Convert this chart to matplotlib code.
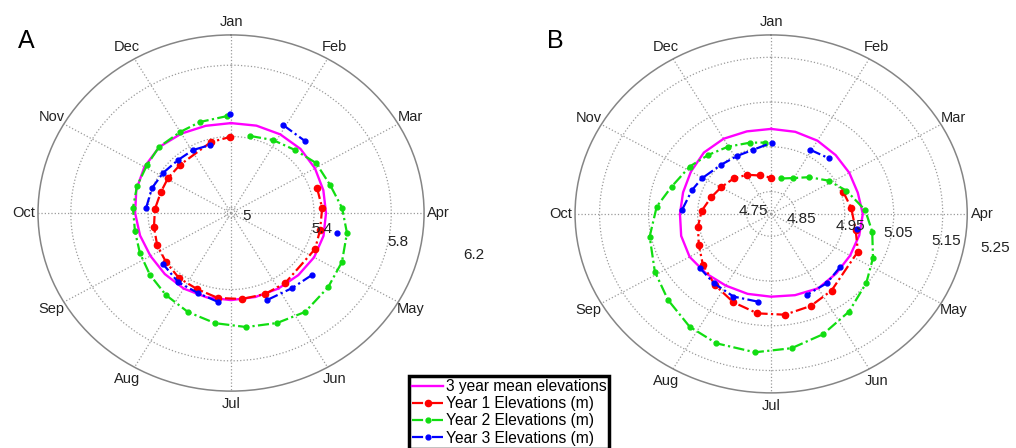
import numpy as np
import matplotlib.pyplot as plt
from matplotlib.lines import Line2D

plt.rcParams['font.family'] = ['Liberation Sans', 'DejaVu Sans']

months = ['Jan', 'Feb', 'Mar', 'Apr', 'May', 'Jun',
          'Jul', 'Aug', 'Sep', 'Oct', 'Nov', 'Dec']
month_deg = np.arange(0, 360, 30)

# 3 year mean, every half month (deg clockwise from Jan)
mean_deg = np.arange(0, 360, 15)
mean_a = [5.475, 5.478, 5.480, 5.479, 5.472, 5.465, 5.462, 5.466, 5.467, 5.463, 5.460, 5.458,
          5.459, 5.460, 5.460, 5.455, 5.452, 5.458, 5.467, 5.478, 5.488, 5.495, 5.485, 5.477]
mean_b = [4.990, 4.990, 4.989, 4.986, 4.984, 4.983, 4.987, 4.986, 4.986, 4.988, 4.992, 4.988,
          4.985, 4.985, 4.985, 4.988, 4.992, 4.990, 4.986, 4.986, 4.989, 4.994, 4.994, 4.991]

# Panel A
y1a_deg = [72.6, 86.6, 101.8, 114.9, 144.5, 158.9, 173.3, 188.0, 202.4, 216.4,
           230.8, 244.8, 258.8, 273.2, 288.0, 301.1, 315.6, 345.4, 359.3]
y1a = [5.437, 5.443, 5.441, 5.450, 5.453, 5.458, 5.456, 5.452, 5.432, 5.424,
       5.405, 5.393, 5.377, 5.365, 5.352, 5.351, 5.348, 5.382, 5.397]
y2a_deg = [12.8, 28.0, 43.2, 57.4, 73.0, 87.2, 100.6, 115.6, 129.6, 145.4, 158.9, 173.0,
           187.6, 201.9, 216.2, 230.4, 244.5, 258.5, 273.2, 287.3, 301.8, 314.8, 330.0, 342.5, 358.0]
y2a = [5.414, 5.434, 5.455, 5.492, 5.507, 5.546, 5.581, 5.607, 5.623, 5.645, 5.632, 5.615,
       5.594, 5.569, 5.541, 5.515, 5.493, 5.478, 5.479, 5.480, 5.482, 5.496, 5.496, 5.506, 5.515]
y3a_deg = [28.6, 43.5, np.nan, 101.5, np.nan, 129.6, 143.1, 159.0, np.nan, 187.6, 200.8,
           215.3, 230.8, np.nan, 273.6, 288.9, 302.6, 317.3, 330.9, 344.0, np.nan, 359.5]
y3a = [5.533, 5.527, np.nan, 5.530, np.nan, 5.515, 5.497, 5.493, np.nan, 5.474, 5.451,
       5.445, 5.424, np.nan, 5.411, 5.403, 5.388, 5.375, 5.375, 5.367, np.nan, 5.526]

# Panel B
y1b_deg = [71.2, 85.5, 101.7, 115.4, 144.3, 158.6, 172.9, 187.2, 201.3, 215.9,
           230.6, 244.9, 259.2, 272.7, 286.8, 300.4, 316.5, 331.0, 344.8, 360.5]
y1b = [4.955, 4.964, 4.976, 4.996, 5.011, 5.021, 5.027, 5.024, 5.012, 4.996,
       4.980, 4.963, 4.952, 4.942, 4.928, 4.918, 4.910, 4.900, 4.889, 4.881]
y2b_deg = [14.9, 29.4, 43.4, 57.7, 71.3, 87.4, 100.9, 115.4, 128.5, 144.0, 158.5, 172.1,
           186.1, 201.1, 213.4, 227.6, 241.5, 258.4, 274.0, 286.7, 302.5, 315.8, 329.8, 344.7, 355.6]
y2b = [4.882, 4.892, 4.913, 4.939, 4.962, 4.992, 5.010, 5.030, 5.048, 5.070, 5.089, 5.103,
       5.111, 5.110, 5.102, 5.085, 5.070, 5.053, 5.034, 5.012, 4.997, 4.984, 4.974, 4.965, 4.960]
y3b_deg = [29.0, 43.2, np.nan, 101.2, np.nan, 129.9, 143.7, 158.1, np.nan, 187.6, 202.6,
           217.2, 230.1, np.nan, 272.8, 288.3, 299.4, 317.0, 332.0, 345.6, 360.3]
y3b = [4.964, 4.971, np.nan, 4.978, np.nan, 4.984, 4.992, 4.995, np.nan, 4.998, 5.000,
       4.994, 4.989, np.nan, 4.982, 4.970, 4.962, 4.950, 4.947, 4.948, 4.959]

# radial scale: ring values and the text labels that MATLAB put on them
rings_a = [5.0, 5.4, 5.8]
rlabels_a = ['5', '5.4', '5.8', '6.2']
rings_b = [4.85, 4.95, 5.05, 5.15]
rlabels_b = ['4.75', '4.85', '4.95', '5.05', '5.15', '5.25']

MAG = '#ff00ff'
RED = '#ff0000'
GRN = '#11dd11'
BLU = '#0000ff'
DASH = (5, 1.5, 1, 1.5)


def panel(ax, rmin, rmax, rings, mean, y1d, y1, y2d, y2, y3d, y3):
    ax.set_theta_zero_location('N')
    ax.set_theta_direction(-1)
    ax.set_ylim(rmin, rmax)
    ax.set_xticks(np.deg2rad(month_deg))
    ax.set_xticklabels([])
    ax.set_yticks(rings)
    ax.set_yticklabels([])
    ax.grid(True, color='#9a9a9a', linestyle=':', linewidth=0.9)
    ax.spines['polar'].set_color('#858585')
    ax.spines['polar'].set_linewidth(1.1)

    th = np.deg2rad(np.append(mean_deg, 360))
    ax.plot(th, np.append(mean, mean[0]), color=MAG, lw=1.7)
    ax.plot(np.deg2rad(y1d), y1, color=RED, ls=(0, DASH), lw=1.6,
            marker='o', ms=4.5, mfc=RED, mec=RED)
    ax.plot(np.deg2rad(y2d), y2, color=GRN, ls=(0, DASH), lw=1.6,
            marker='.', ms=7)
    ax.plot(np.deg2rad(y3d), y3, color=BLU, ls=(0, DASH), lw=1.6,
            marker='.', ms=7)

    rlab = rmin + 1.075 * (rmax - rmin)
    for d, m in zip(month_deg, months):
        ax.text(np.deg2rad(d), rlab, m, ha='center', va='center',
                fontsize=10.5, color='#222222', clip_on=False)
    ax.set_aspect('auto')


fig = plt.figure(figsize=(10.16, 4.48), dpi=100)

ax1 = fig.add_axes([0.0374, 0.127, 0.380, 0.795], projection='polar')
panel(ax1, 4.97, 5.97, rings_a, mean_a, y1a_deg, y1a, y2a_deg, y2a, y3a_deg, y3a)
for lab in rlabels_a:
    v = float(lab)
    ax1.text(np.deg2rad(100.5), v + 0.05, lab, ha='center', va='center',
             fontsize=11, color='#222222', clip_on=False)

ax2 = fig.add_axes([0.566, 0.123, 0.386, 0.799], projection='polar')
panel(ax2, 4.80, 5.20, rings_b, mean_b, y1b_deg, y1b, y2b_deg, y2b, y3b_deg, y3b)
ax2.text(np.deg2rad(280), 4.837, rlabels_b[0], ha='center', va='center',
         fontsize=11, color='#222222')
for lab in rlabels_b[1:]:
    v = float(lab)
    ax2.text(np.deg2rad(99.5), v + 0.013, lab, ha='center', va='center',
             fontsize=11, color='#222222', clip_on=False)

fig.text(26 / 1016, 1 - 41 / 448, 'A', fontsize=18, ha='center', va='center')
fig.text(555 / 1016, 1 - 41 / 448, 'B', fontsize=18, ha='center', va='center')

handles = [
    Line2D([], [], color=MAG, lw=1.7),
    Line2D([], [], color=RED, ls=(0, DASH), lw=1.6, marker='o', ms=4.5),
    Line2D([], [], color=GRN, ls=(0, DASH), lw=1.6, marker='.', ms=7),
    Line2D([], [], color=BLU, ls=(0, DASH), lw=1.6, marker='.', ms=7),
]
labels = ['3 year mean elevations', 'Year 1 Elevations (m)',
          'Year 2 Elevations (m)', 'Year 3 Elevations (m)']
leg = fig.legend(handles, labels, loc='upper left',
                 bbox_to_anchor=(409 / 1016, 1 - 376 / 448),
                 fontsize=11.2, handlelength=2.0, handletextpad=0.15,
                 labelspacing=0.14, borderpad=0.2, borderaxespad=0,
                 fancybox=False, framealpha=1)
leg.get_frame().set_edgecolor('black')
leg.get_frame().set_linewidth(2.5)

fig.savefig('out.png', dpi=100)
